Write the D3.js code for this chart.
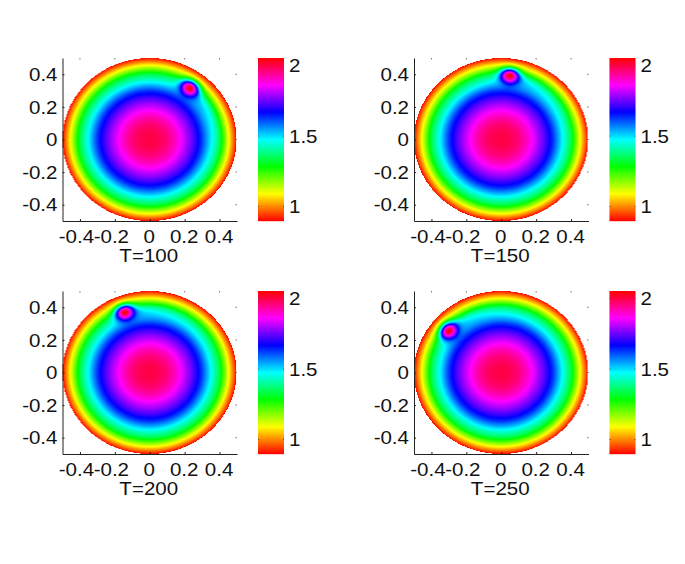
<!DOCTYPE html>
<html><head><meta charset="utf-8">
<script src="https://cdn.jsdelivr.net/npm/d3@7"></script>
<style>html,body{margin:0;background:#fff}svg{display:block}text{font-family:"Liberation Sans",Arial,sans-serif;fill:#111}</style>
</head><body><svg id="c" width="685" height="564"></svg>
<script>
const titles = ["T=100","T=150","T=200","T=250"];
const panelCol = [0,1,0,1];
const panelRow = [0,0,1,1];
const bumpX = [0.231,0.05,-0.142,-0.30];
const bumpY = [0.314,0.39,0.368,0.255];
const bumpPeak = [2.05,2.05,2.05,2.05];
const profileR = [0,0.05,0.1,0.15,0.2,0.25,0.3,0.35,0.4,0.45,0.5];
const profileV = [2.0,1.99,1.96,1.90,1.82,1.73,1.625,1.475,1.335,1.11,0.9];
const hueStops = ["#ff0000","#ffff00","#00ff00","#00ffff","#0000ff","#ff00ff","#ff0000"];
const xTicks = [-0.4,-0.2,0,0.2,0.4];
const yTicks = [-0.4,-0.2,0,0.2,0.4];
const cbTicks = [1,1.5,2];
const vMin = 0.894, vMax = 2.05;

const svg = d3.select("#c");
const defs = svg.append("defs");
defs.append("filter").attr("id","soft").attr("x","-5%").attr("y","-5%").attr("width","110%").attr("height","110%")
  .append("feGaussianBlur").attr("stdDeviation",0.5);

const color = d3.scaleLinear().domain(d3.range(7).map(i=>vMin+(vMax-vMin)*i/6)).range(hueStops).clamp(true);
const profile = d3.scaleLinear().domain(profileR).range(profileV).clamp(true);

const W=174.5,H=163,cbW=26,FS=18;
const colX=[62.5,414], rowY=[58,291];
const fmt=d=>String(d);
const stretch=sel=>sel.each(function(){
  const n=this.getComputedTextLength();
  d3.select(this).attr("textLength",n*1.14).attr("lengthAdjust","spacingAndGlyphs");
});

titles.forEach((t,i)=>{
  const x0=colX[panelCol[i]], y0=rowY[panelRow[i]];
  const g=svg.append("g").attr("transform",`translate(${x0},${y0})`);
  const x=d3.scaleLinear().domain([-0.5,0.5]).range([0,W]);
  const y=d3.scaleLinear().domain([-0.5,0.5]).range([H,0]);
  const cv=document.createElement("canvas");
  const nx=Math.round(W),ny=Math.round(H);
  cv.width=nx;cv.height=ny;
  const ctx=cv.getContext("2d");
  const im=ctx.createImageData(nx,ny);
  const bx=bumpX[i],by=bumpY[i],ang0=Math.atan2(by,bx),r0=Math.hypot(bx,by);
  for(let py=0;py<ny;py++)for(let px=0;px<nx;px++){
    const ux=x.invert(px+0.5),uy=y.invert(py+0.5),r=Math.hypot(ux,uy);
    if(r>0.5)continue;
    let v=profile(r);
    // tail trailing the vortex (clockwise side)
    let dth=ang0-Math.atan2(uy,ux);
    if(dth<-Math.PI)dth+=2*Math.PI; if(dth>Math.PI)dth-=2*Math.PI;
    const tailRad=Math.exp(-Math.pow((r-(r0-0.012))/0.045,2));
    const tail=dth>0?Math.exp(-dth/0.55):Math.exp(dth/0.14);
    v+=0.14*tailRad*tail;
    // compact vortex, slightly flattened radially
    const dx=ux-bx,dy=uy-by;
    const er=(dx*bx+dy*by)/r0, et=(-dx*by+dy*bx)/r0;
    const b=Math.exp(-(er*er)/(0.042*0.042)-(et*et)/(0.051*0.051));
    v=v+(bumpPeak[i]-v)*b;
    const c=d3.rgb(color(v)),k=(py*nx+px)*4;
    im.data[k]=c.r;im.data[k+1]=c.g;im.data[k+2]=c.b;im.data[k+3]=255;
  }
  ctx.putImageData(im,0,0);
  g.append("image").attr("width",W).attr("height",H).attr("href",cv.toDataURL()).attr("preserveAspectRatio","none").attr("filter","url(#soft)");
  // small ticks on the open sides
  g.append("g").selectAll("rect").data(xTicks).join("rect").attr("x",d=>x(d)-0.5).attr("y",0).attr("width",1).attr("height",1.5).attr("fill","#777");
  g.append("g").selectAll("rect").data(yTicks).join("rect").attr("x",W-1.5).attr("y",d=>y(d)-0.5).attr("width",1.5).attr("height",1).attr("fill","#777");
  const ax=g.append("g").attr("transform",`translate(0,${H})`).call(d3.axisBottom(x).tickValues(xTicks).tickFormat(fmt).tickSizeInner(-2).tickSizeOuter(0).tickPadding(9));
  const ay=g.append("g").call(d3.axisLeft(y).tickValues(yTicks).tickFormat(fmt).tickSizeInner(-2).tickSizeOuter(0).tickPadding(5));
  [ax,ay].forEach(a=>{a.attr("font-family",null).selectAll("text").attr("font-size",FS).call(stretch);a.selectAll("path,line").attr("stroke","#222").attr("stroke-width",1);});
  ax.selectAll("text").attr("dx",d=>d<0?-4:-1);
  ay.selectAll("text").attr("transform","translate(0,0.5)");
  g.append("text").attr("x",W/2-1).attr("y",H+41).attr("text-anchor","middle").attr("font-size",FS).text(t).call(stretch);
  // colour bar
  const cb=svg.append("g").attr("transform",`translate(${x0+195.5},${y0})`);
  const cy=d3.scaleLinear().domain([vMin,vMax]).range([H,0]);
  cb.append("g").selectAll("rect").data(d3.range(0,Math.round(H))).join("rect")
    .attr("x",0).attr("width",cbW).attr("y",d=>d).attr("height",1.2)
    .attr("fill",d=>color(cy.invert(d+0.5)));
  cb.append("g").selectAll("rect.l").data(cbTicks).join("rect").attr("class","l").attr("x",0).attr("width",1).attr("y",d=>cy(d)).attr("height",1).attr("fill","#555");
  cb.append("g").selectAll("rect.r").data(cbTicks).join("rect").attr("class","r").attr("x",cbW-1).attr("width",1).attr("y",d=>cy(d)).attr("height",1).attr("fill","#555");
  const az=cb.append("g").attr("transform",`translate(${cbW},0)`).call(d3.axisRight(cy).tickValues(cbTicks).tickFormat(fmt).tickSize(0).tickPadding(5));
  az.select("path").remove();
  az.attr("font-family",null).selectAll("text").attr("font-size",FS).attr("transform","translate(0,1)").call(stretch);
});
</script></body></html>
